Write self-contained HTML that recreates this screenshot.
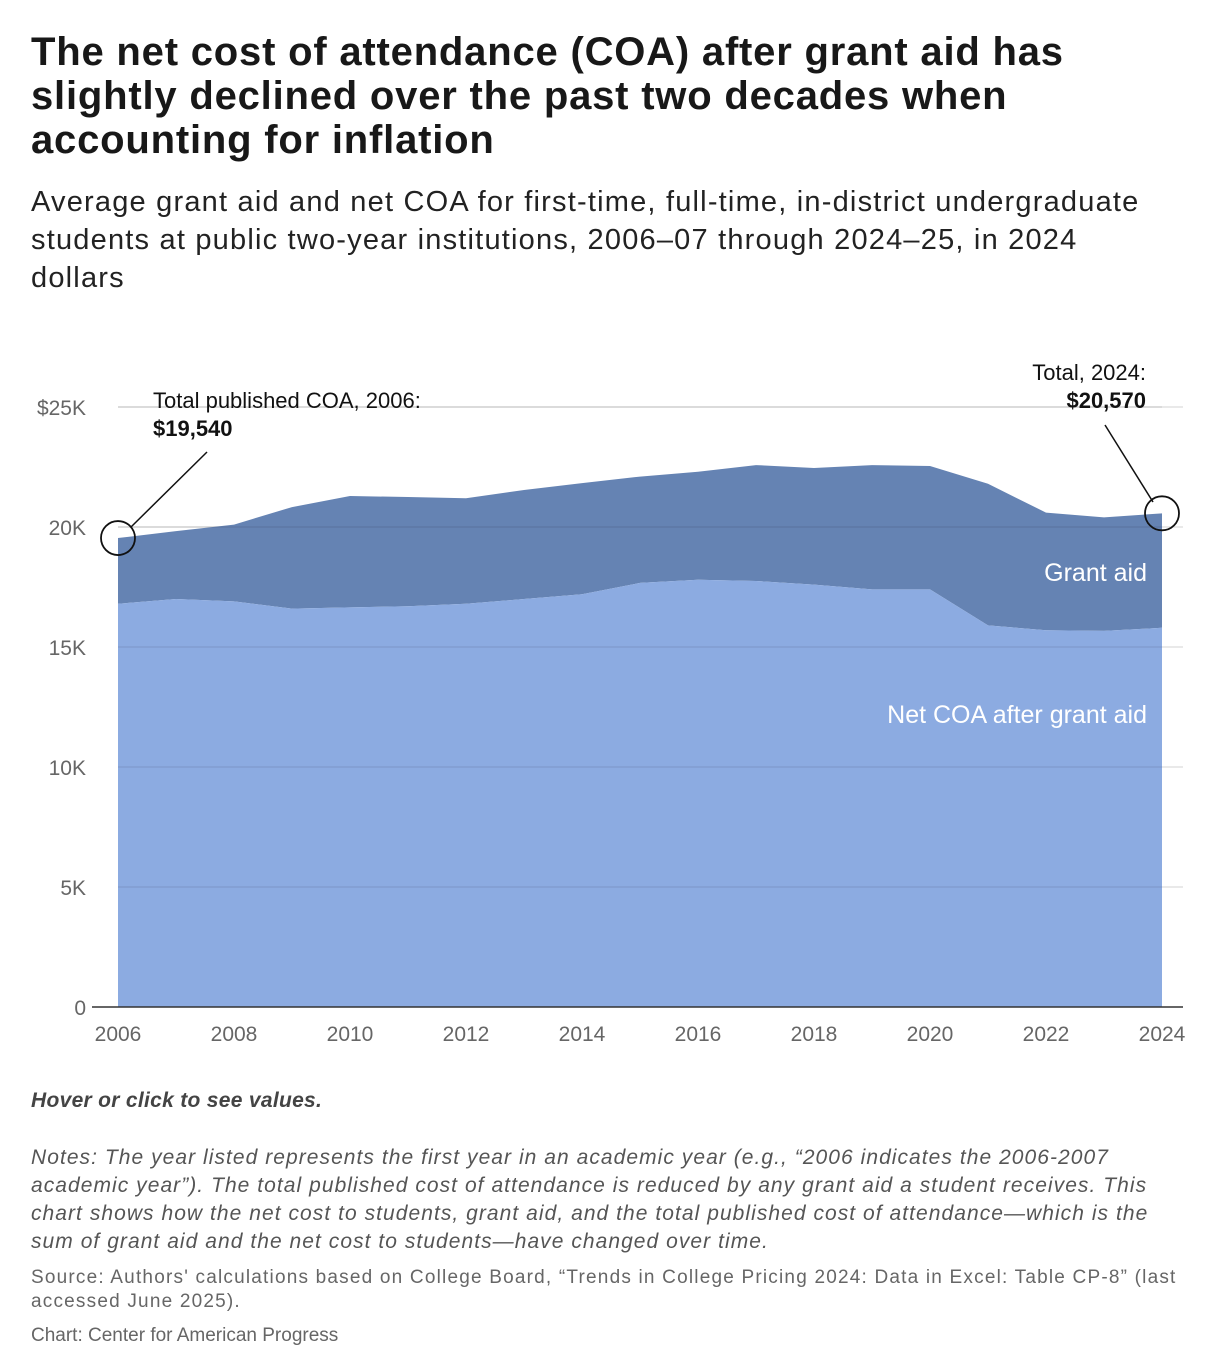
<!DOCTYPE html>
<html><head><meta charset="utf-8"><style>
body{margin:0;background:#fff;width:1220px;height:1344px;overflow:hidden;font-family:"Liberation Sans",Arial,sans-serif;color:#181818}
h1{position:absolute;left:31px;top:30px;margin:0;font-size:40px;line-height:44px;font-weight:bold;width:1180px;letter-spacing:0.8px;white-space:nowrap}
.sub{position:absolute;left:31px;top:183px;font-size:29px;line-height:38px;width:1180px;color:#222;letter-spacing:1.2px;white-space:nowrap}
.hover{position:absolute;left:31px;top:1089px;font-size:21px;font-weight:bold;font-style:italic;color:#444;letter-spacing:0.3px}
.notes{position:absolute;left:31px;top:1144px;font-size:21px;line-height:28px;font-style:italic;color:#555;width:1180px;letter-spacing:1.05px;white-space:nowrap}
.src{position:absolute;left:31px;top:1266px;font-size:19px;line-height:24px;color:#666;width:1180px;letter-spacing:1.2px;white-space:nowrap}
.cred{position:absolute;left:31px;top:1325px;font-size:19px;color:#666}
svg{position:absolute;left:0;top:0}
</style></head><body>
<h1>The net cost of attendance (COA) after grant aid has<br>slightly declined over the past two decades when<br>accounting for inflation</h1>
<div class="sub">Average grant aid and net COA for first-time, full-time, in-district undergraduate<br>students at public two-year institutions, 2006–07 through 2024–25, in 2024<br>dollars</div>
<svg id="chart" width="1220" height="1344"></svg>
<div class="hover">Hover or click to see values.</div>
<div class="notes">Notes: The year listed represents the first year in an academic year (e.g., “2006 indicates the 2006-2007<br>academic year”). The total published cost of attendance is reduced by any grant aid a student receives. This<br>chart shows how the net cost to students, grant aid, and the total published cost of attendance—which is the<br>sum of grant aid and the net cost to students—have changed over time.</div>
<div class="src">Source: Authors' calculations based on College Board, “Trends in College Pricing 2024: Data in Excel: Table CP-8” (last<br>accessed June 2025).</div>
<div class="cred">Chart: Center for American Progress</div>
<script>
const years=[2006,2007,2008,2009,2010,2011,2012,2013,2014,2015,2016,2017,2018,2019,2020,2021,2022,2023,2024];
const totalCOA=[19540,19830,20100,20830,21290,21250,21200,21540,21830,22100,22300,22580,22460,22580,22540,21800,20600,20400,20570];
const netCOA=[16800,17000,16900,16600,16650,16700,16800,17000,17200,17670,17800,17750,17600,17400,17400,15900,15700,15670,15800];
const yTicks=[0,5000,10000,15000,20000,25000];
const yTickLabels=["0","5K","10K","15K","20K","$25K"];
const xTicks=[2006,2008,2010,2012,2014,2016,2018,2020,2022,2024];
(function(){
const NS="http://www.w3.org/2000/svg";
const svg=document.getElementById('chart');
const x=v=>118+(v-2006)*(1162-118)/18;
const y=v=>1007-v*600/25000;
function mk(t,a,txt){const e=document.createElementNS(NS,t);for(const k in a)e.setAttribute(k,a[k]);if(txt!=null)e.textContent=txt;svg.appendChild(e);return e;}
yTicks.forEach((t,i)=>{
 if(t>0){const g=mk('line',{x1:118,x2:1183,y1:y(t),y2:y(t),stroke:'#e2e2e2','stroke-width':1.5});
 
 }
 const l=mk('text',{x:86,y:y(t)+8,'text-anchor':'end','font-size':21,fill:'#666'},yTickLabels[i]);
 
 
});
const topPath='M'+years.map((yr,i)=>x(yr)+','+y(totalCOA[i])).join(' L');
const netTop=years.map((yr,i)=>x(yr)+','+y(netCOA[i]));
const grant=mk('path',{d:topPath+' L'+netTop.slice().reverse().join(' L')+' Z',fill:'#6583b3'});


const net=mk('path',{d:'M'+netTop.join(' L')+' L'+x(2024)+','+y(0)+' L'+x(2006)+','+y(0)+' Z',fill:'#8cabe1'});


yTicks.slice(1).forEach(t=>{const g=mk('line',{x1:118,x2:1162,y1:y(t),y2:y(t),stroke:'#000','stroke-opacity':0.08,'stroke-width':1.5});
 
 });
const ax=mk('line',{x1:92,x2:1183,y1:1007,y2:1007,stroke:'#333','stroke-width':1.5});


xTicks.forEach(t=>{const l=mk('text',{x:x(t),y:1041,'text-anchor':'middle','font-size':21,fill:'#666'},String(t));
 
 });
const la=mk('text',{x:1147,y:581,'text-anchor':'end','font-size':25,fill:'#fff'},'Grant aid');


const lb=mk('text',{x:1147,y:723,'text-anchor':'end','font-size':25,fill:'#fff'},'Net COA after grant aid');


const c1=mk('circle',{cx:x(2006),cy:y(totalCOA[0]),r:17,fill:'none',stroke:'#111','stroke-width':1.8});


const l1=mk('line',{x1:131,y1:527,x2:207,y2:452,stroke:'#111','stroke-width':1.5});


const a1=mk('text',{x:153,y:408,'font-size':22,fill:'#111'},'Total published COA, 2006:');


const a1b=mk('text',{x:153,y:436,'font-size':22,'font-weight':'bold',fill:'#111'},'$19,540');


const c2=mk('circle',{cx:x(2024),cy:y(totalCOA[18]),r:17,fill:'none',stroke:'#111','stroke-width':1.8});


const l2=mk('line',{x1:1105,y1:425,x2:1153,y2:502,stroke:'#111','stroke-width':1.5});


const a2=mk('text',{x:1146,y:380,'text-anchor':'end','font-size':22,fill:'#111'},'Total, 2024:');


const a2b=mk('text',{x:1146,y:408,'text-anchor':'end','font-size':22,'font-weight':'bold',fill:'#111'},'$20,570');


})();
</script>
</body></html>
